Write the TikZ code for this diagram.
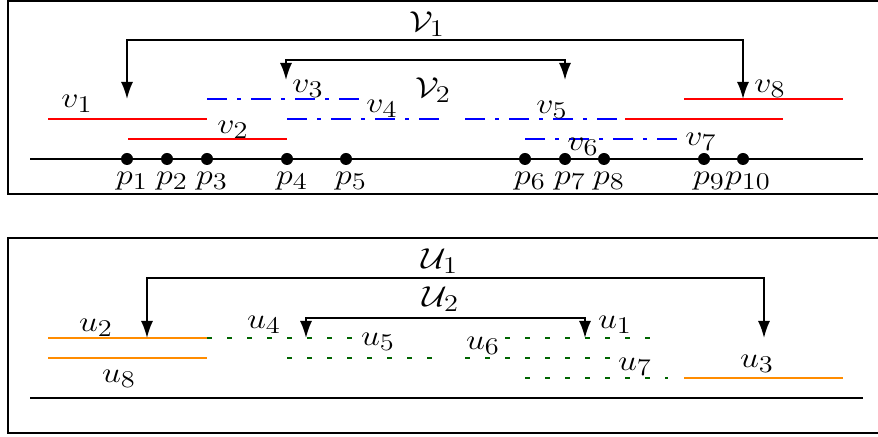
\documentclass[tikz,border=0pt]{standalone}
\usepackage{amsmath, amssymb}
\usetikzlibrary{arrows.meta, positioning}
\DeclareMathSizes{14.4}{14.4}{12}{10}
\definecolor{vred}{RGB}{255,0,0}
\definecolor{vblue}{RGB}{0,0,255}
\definecolor{uorange}{RGB}{255,140,0}
\definecolor{ugreen}{RGB}{0,100,0}
\newcommand{\mlab}[1]{\scalebox{1.18}[1]{$#1$}}
\tikzset{
	frame/.style={line width=1pt},
	axis/.style={line width=0.9pt},
	dot/.style={circle, fill=black, inner sep=0pt, minimum size=6pt},
	redseg/.style={vred, line width=0.8pt},
	blueseg/.style={vblue, line width=0.8pt, dash pattern=on 10pt off 5pt on 2pt off 5pt},
	orangeseg/.style={uorange, line width=0.8pt},
	greenseg/.style={ugreen, line width=0.8pt, dash pattern=on 2.5pt off 7.5pt},
	grp/.style={line width=0.9pt, {Latex[length=8.5pt,width=6pt]}-{Latex[length=8.5pt,width=6pt]}},
	lbl/.style={inner sep=0pt}
}

\begin{document}
\begin{tikzpicture}[x=0.5pt, y=-0.5pt, font=\fontsize{14.4}{17}\selectfont]
	\useasboundingbox (0,0) rectangle (878,437);
	% Frames:
	\draw[frame] (8,1) rectangle (884,194);
	\draw[frame] (8,238) rectangle (884,433);

	% Upper part, points on the line:
	\draw[axis] (30,159) -- (863,159);
	\foreach \i/\x in {1/127,2/167,3/207,4/287,5/346,6/525,7/565,8/604,9/704,10/743}
		\node[dot] (p\i) at (\x,159) {};
	\foreach \i in {1,...,10}
		\node[lbl, below=3pt of p\i, xshift=2.5pt] (lp\i) {\mlab{p_{\i}}};

	% Intervals v:
	\draw[redseg] (48,119) -- (207,119);
	\draw[redseg] (128,139) -- (287,139);
	\draw[blueseg] (207,99) -- (362,99);
	\draw[blueseg] (287,119) -- (444,119);
	\draw[blueseg] (465,119) -- (623,119);
	\draw[blueseg] (525,139) -- (680,139);
	\draw[redseg] (625,119) -- (783,119);
	\draw[redseg] (684,99) -- (843,99);
	\node[lbl] (v1) at (77,104) {\mlab{v_1}};
	\node[lbl] (v2) at (233,130) {\mlab{v_2}};
	\node[lbl] (v3) at (308,89) {\mlab{v_3}};
	\node[lbl] (v4) at (382,109) {\mlab{v_4}};
	\node[lbl] (v5) at (552,110) {\mlab{v_5}};
	\node[lbl] (v6) at (583,147) {\mlab{v_6}};
	\node[lbl] (v7) at (701,142) {\mlab{v_7}};
	\node[lbl] (v8) at (770,89) {\mlab{v_8}};

	% Groups V1, V2:
	\coordinate (V1a) at (127,99);
	\coordinate (V1b) at (743,99);
	\coordinate (V1top) at (435,40);
	\draw[grp] (V1a) |- (V1top) -| (V1b);
	\node[lbl] (V1) at (427,24) {\mlab{\mathcal{V}_1}};
	\coordinate (V2a) at (286,80);
	\coordinate (V2b) at (565,80);
	\coordinate (V2top) at (435,60);
	\draw[grp] (V2a) |- (V2top) -| (V2b);
	\node[lbl] (V2) at (433,90) {\mlab{\mathcal{V}_2}};

	% Lower part:
	\draw[axis] (30,398) -- (863,398);
	\draw[orangeseg] (48,338) -- (207,338);
	\draw[orangeseg] (48,358) -- (207,358);
	\draw[greenseg] (207,338) -- (353,338);
	\draw[greenseg] (287,358) -- (433,358);
	\draw[greenseg] (465,358) -- (610,358);
	\draw[greenseg] (505,338) -- (650,338);
	\draw[greenseg] (525,378) -- (668,378);
	\draw[orangeseg] (684,378) -- (843,378);
	\node[lbl] (u1) at (615,325) {\mlab{u_1}};
	\node[lbl] (u2) at (96,328) {\mlab{u_2}};
	\node[lbl] (u3) at (757,364) {\mlab{u_3}};
	\node[lbl] (u4) at (264,325) {\mlab{u_4}};
	\node[lbl] (u5) at (378,342) {\mlab{u_5}};
	\node[lbl] (u6) at (483,346) {\mlab{u_6}};
	\node[lbl] (u7) at (635,367) {\mlab{u_7}};
	\node[lbl] (u8) at (119,379) {\mlab{u_8}};

	% Groups U1, U2:
	\coordinate (U1a) at (147,338);
	\coordinate (U1b) at (764,338);
	\coordinate (U1top) at (440,278);
	\draw[grp] (U1a) |- (U1top) -| (U1b);
	\node[lbl] (U1) at (440,261) {\mlab{\mathcal{U}_1}};
	\coordinate (U2a) at (306,338);
	\coordinate (U2b) at (585,338);
	\coordinate (U2top) at (440,318);
	\draw[grp] (U2a) |- (U2top) -| (U2b);
	\node[lbl] (U2) at (441,299) {\mlab{\mathcal{U}_2}};
\end{tikzpicture}
\end{document}
